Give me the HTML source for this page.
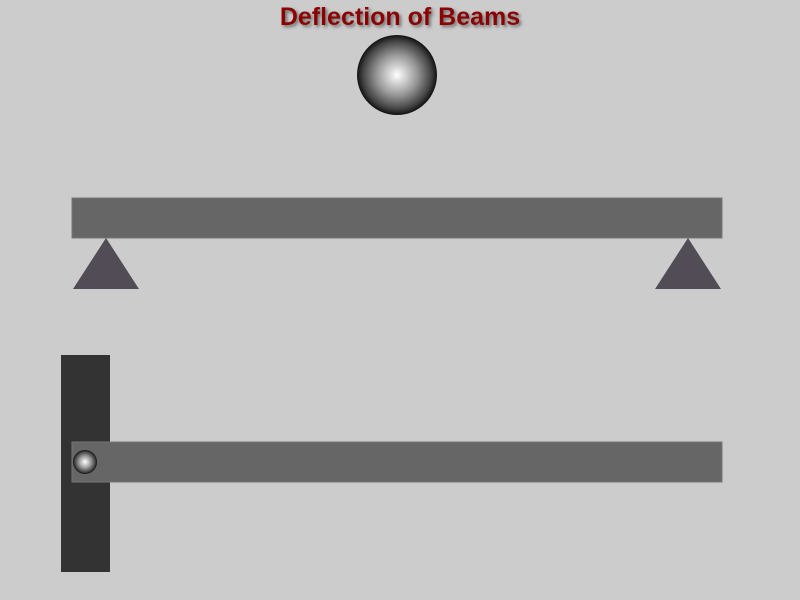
<!DOCTYPE html>
<html><head><meta charset="utf-8"><style>
body{margin:0;background:#cccccc;width:800px;height:600px;overflow:hidden;}
svg{display:block}
</style></head><body>
<svg width="800" height="600">
<defs>
<radialGradient id="g" cx="0.5" cy="0.5" r="0.5" fx="0.5" fy="0.5">
<stop offset="0" stop-color="#ffffff"/><stop offset="0.5" stop-color="#999"/><stop offset="0.85" stop-color="#444"/><stop offset="1" stop-color="#111"/></radialGradient>
<filter id="sh"><feDropShadow dx="2" dy="2" stdDeviation="1.5" flood-color="#555" flood-opacity="0.8"/></filter>
</defs>
<rect width="800" height="600" fill="#cccccc"/>
<text x="400" y="25" text-anchor="middle" font-family="Liberation Sans, sans-serif" font-weight="bold" font-size="25" fill="#8b0000" filter="url(#sh)">Deflection of Beams</text>
<circle cx="397" cy="75" r="40" fill="url(#g)"/>
<rect x="72" y="198" width="650" height="40" fill="#666666" stroke="#777" stroke-width="1"/>
<polygon points="106,238 139,289 73,289" fill="#514c55"/>
<polygon points="688,238 721,289 655,289" fill="#514c55"/>
<rect x="61" y="355" width="49" height="217" fill="#333333"/>
<rect x="72" y="442" width="650" height="40" fill="#666666" stroke="#777" stroke-width="1"/>
<circle cx="85" cy="462" r="12" fill="url(#g)"/>
</svg>
</body></html>
